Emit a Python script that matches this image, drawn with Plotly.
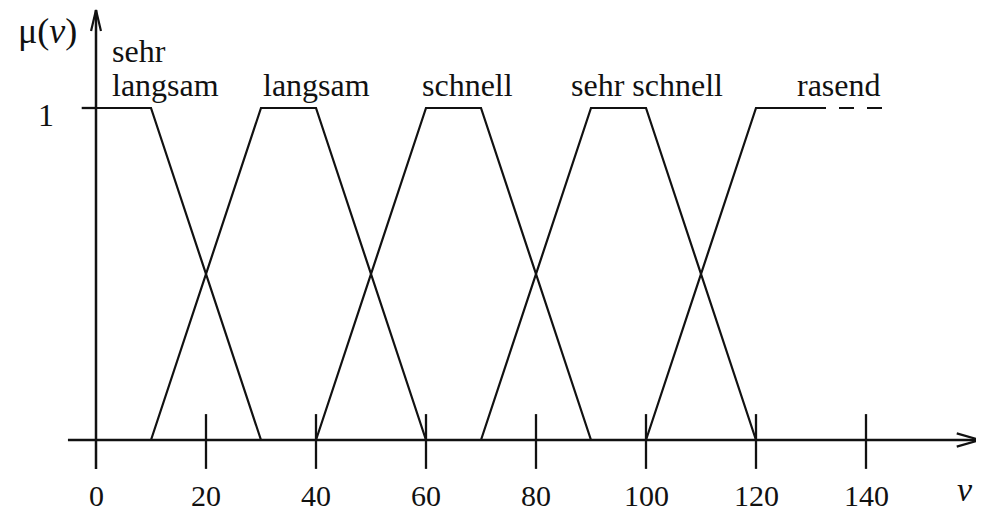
"""Fuzzy membership functions for speed (Geschwindigkeit)."""

import plotly.graph_objects as go

# membership function break points (x = speed, y = membership)
sehr_langsam_x = [0, 10, 30]
sehr_langsam_y = [1, 1, 0]
langsam_x = [10, 30, 40, 60]
langsam_y = [0, 1, 1, 0]
schnell_x = [40, 60, 70, 90]
schnell_y = [0, 1, 1, 0]
sehr_schnell_x = [70, 90, 100, 120]
sehr_schnell_y = [0, 1, 1, 0]
rasend_x = [100, 120, 130]
rasend_y = [0, 1, 1]
rasend_cont_x = [130, 144.5]
rasend_cont_y = [1, 1]

tick_values = [0, 20, 40, 60, 80, 100, 120, 140]
tick_labels = ["0", "20", "40", "60", "80", "100", "120", "140"]

set_labels = ["sehr<br>langsam", "langsam", "schnell", "sehr schnell", "rasend"]
set_label_x = [2.5, 40, 67.5, 100.2, 135]

FONT = "Liberation Serif"
BLACK = "#111111"

# the page body has an 8px margin, so the figure is a little smaller
W, H = 976, 506
PX_X, PX_Y = 5.5, 332  # pixels per data unit
X0_PX, Y0_PX = 88, 432  # where the origin sits inside the figure
X_MIN, X_MAX = -X0_PX / PX_X, (W - X0_PX) / PX_X
Y_MIN, Y_MAX = -(H - Y0_PX) / PX_Y, Y0_PX / PX_Y
X_END = 160.7  # tip of the x arrow
Y_END = 1.295  # tip of the y arrow

fig = go.Figure()


def _line(x, y, width=2.0, dash="solid"):
    fig.add_trace(
        go.Scatter(
            x=x,
            y=y,
            mode="lines",
            line=dict(color=BLACK, width=width, dash=dash),
            hoverinfo="skip",
            showlegend=False,
        )
    )


# membership curves
for xs, ys in [
    (sehr_langsam_x, sehr_langsam_y),
    (langsam_x, langsam_y),
    (schnell_x, schnell_y),
    (sehr_schnell_x, sehr_schnell_y),
    (rasend_x, rasend_y),
]:
    _line(xs, ys, width=2.2)
_line(rasend_cont_x, rasend_cont_y, width=2.2, dash="15px,13px")

# axes with arrow heads
_line([-5.1, X_END], [0, 0], width=2.5)
_line([0, 0], [-0.087, Y_END], width=2.5)
_line([X_END - 4.2, X_END, X_END - 4.2], [0.02, 0, -0.02], width=2.2)
_line([-0.9, 0, 0.9], [Y_END - 0.063, Y_END, Y_END - 0.063], width=2.2)

# tick marks crossing the x axis, and the "1" tick on the y axis
for tv in tick_values[1:]:
    _line([tv, tv], [-0.087, 0.078], width=2.3)
_line([-2.6, 0], [1, 1], width=2.3)

annotations = []
for tv, tl in zip(tick_values, tick_labels):
    annotations.append(
        dict(
            x=tv,
            y=-0.168,
            text=tl,
            showarrow=False,
            yanchor="middle",
            font=dict(size=30),
        )
    )
annotations.append(dict(x=-9.1, y=0.98, text="1", showarrow=False))
annotations.append(
    dict(x=-8.9, y=1.232, text="μ(<i>ν</i>)", showarrow=False, font=dict(size=36))
)
annotations.append(
    dict(x=158, y=-0.15, text="<i>ν</i>", showarrow=False, font=dict(size=34))
)

LINE_GAP = 0.102  # spacing between two stacked label lines, in data units
for lab, lx in zip(set_labels, set_label_x):
    lines = lab.split("<br>")
    for i, part in enumerate(reversed(lines)):
        annotations.append(
            dict(
                x=lx,
                y=1.01 + i * LINE_GAP,
                text=part,
                showarrow=False,
                xanchor="left" if len(lines) > 1 else "center",
                yanchor="bottom",
            )
        )

fig.update_layout(
    width=W,
    height=H,
    margin=dict(l=0, r=0, t=0, b=0),
    paper_bgcolor="white",
    plot_bgcolor="white",
    font=dict(family=FONT, size=32, color=BLACK),
    annotations=annotations,
    xaxis=dict(range=[X_MIN, X_MAX], visible=False, fixedrange=True),
    yaxis=dict(range=[Y_MIN, Y_MAX], visible=False, fixedrange=True),
)

fig.write_html("out.html")
